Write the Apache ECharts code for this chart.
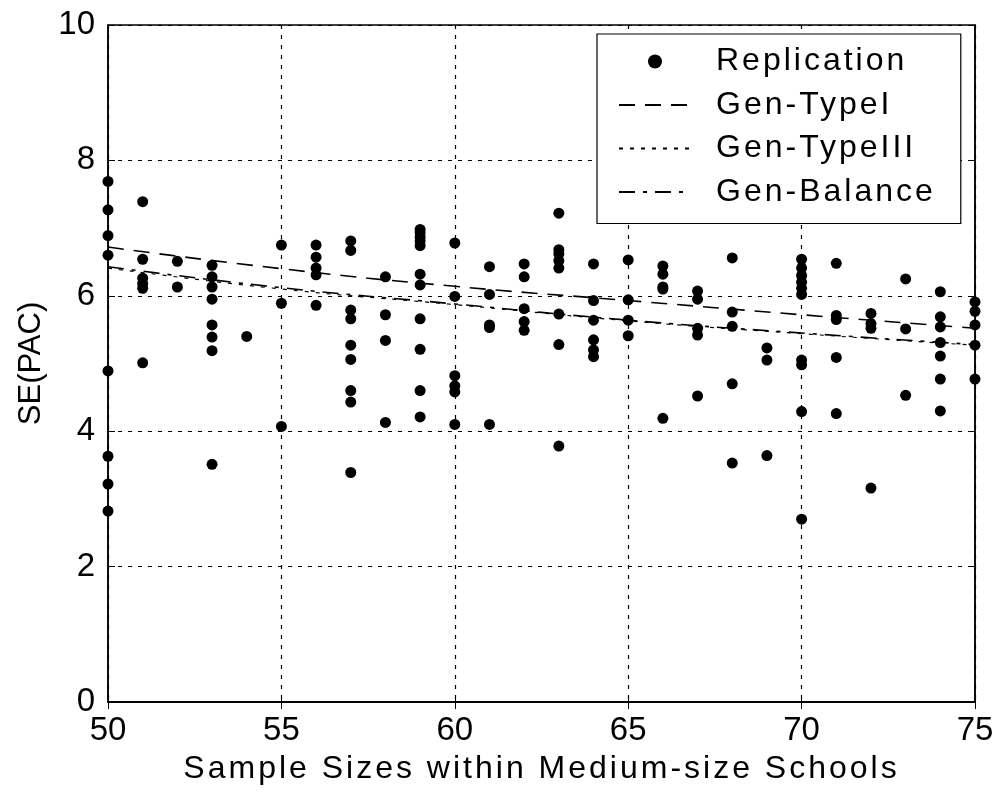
<!DOCTYPE html>
<html>
<head>
<meta charset="utf-8">
<script src="https://cdn.jsdelivr.net/npm/echarts@6/dist/echarts.min.js"></script>
<style>html,body{margin:0;padding:0;background:#fff}#c{width:1000px;height:796px}</style>
</head>
<body>
<div id="c"></div>
<script>
// Replication: sample size -> SE(PAC) values
const repSizes = [50,51,52,53,54,55,56,57,58,59,60,61,62,63,64,65,66,67,68,69,70,71,72,73,74,75];
const repValues = [
  [7.69,7.27,6.89,6.60,4.89,3.63,3.22,2.82],
  [7.39,6.54,6.26,6.18,6.11,5.01],
  [6.51,6.13],
  [6.45,6.28,6.13,5.95,5.57,5.39,5.19,3.51],
  [5.40],
  [6.75,5.89,4.07],
  [6.75,6.57,6.41,6.31,5.86],
  [6.81,6.67,5.79,5.66,5.27,5.06,4.60,4.43,3.39],
  [6.28,5.72,5.34,4.13],
  [6.98,6.93,6.87,6.81,6.74,6.32,6.16,5.66,5.21,4.60,4.21],
  [6.78,5.99,4.82,4.67,4.58,4.10],
  [6.43,6.02,5.57,5.53,4.10],
  [6.47,6.28,5.81,5.62,5.49],
  [7.22,6.68,6.62,6.52,6.41,5.73,5.28,3.78],
  [6.47,5.93,5.64,5.35,5.20,5.10],
  [6.53,5.94,5.64,5.41],
  [6.44,6.32,6.13,6.10,4.19],
  [6.07,5.95,5.52,5.42,4.52],
  [6.56,5.76,5.55,4.70,3.53],
  [5.23,5.05,3.64],
  [6.54,6.41,6.30,6.20,6.11,6.02,5.05,4.98,4.29,2.70],
  [6.48,5.71,5.65,5.09,4.26],
  [5.74,5.59,5.52,3.16],
  [6.25,5.51,4.53],
  [6.06,5.69,5.54,5.31,5.11,4.77,4.30],
  [5.91,5.77,5.57,5.27,4.77]
];
// Generated curves
const genX = [50,55,60,65,70,75];
const genTypeI = [6.72,6.40,6.14,5.93,5.72,5.52];
const genTypeIII = [6.41,6.10,5.87,5.63,5.44,5.27];
const genBalance = [6.43,6.12,5.88,5.64,5.45,5.28];

// Letter-spaced text for the 32px labels (title and legend), as in the original figure
(function(){
  const P = CanvasRenderingContext2D.prototype;
  const d = Object.getOwnPropertyDescriptor(P,'font');
  if (!d || !('letterSpacing' in P)) return;
  Object.defineProperty(P,'font',{
    configurable:true,
    get(){return d.get.call(this);},
    set(v){d.set.call(this,v); this.letterSpacing = /(^|\s)32px/.test(v) ? '3px' : '0px';}
  });
})();

const repData = [];
repSizes.forEach((s,i)=>repValues[i].forEach(v=>repData.push([s,v])));
const pair = ys => genX.map((x,i)=>[x,ys[i]]);

const font = 'Liberation Sans, Arial, sans-serif';
const chart = echarts.init(document.getElementById('c'));
const gridLine = {show:true,lineStyle:{color:'#000',type:[4,6],width:1.2}};
const hiddenSym = {color:'rgba(0,0,0,0)',borderColor:'rgba(0,0,0,0)',borderWidth:0};
chart.setOption({
  animation:false,
  backgroundColor:'#fff',
  grid:{left:108,right:25,top:25,bottom:94,outerBoundsMode:'none',containLabel:false,
        show:true,borderColor:'#000',borderWidth:1.5,backgroundColor:'transparent'},
  legend:{
    left:597, top:34, orient:'vertical',
    padding:[10,25,14,21],
    itemGap:8.5, itemWidth:72, itemHeight:14,
    borderColor:'#000', borderWidth:1.2, backgroundColor:'#fff',
    textStyle:{fontFamily:font,fontSize:32,lineHeight:32,color:'#000',padding:[0,0,0,20]},
    data:[
      {name:'Replication',icon:'circle',itemStyle:{color:'#000'}},
      {name:'Gen-TypeI',itemStyle:hiddenSym},
      {name:'Gen-TypeIII',itemStyle:hiddenSym},
      {name:'Gen-Balance',itemStyle:hiddenSym}
    ]
  },
  xAxis:[{
    type:'value',min:50,max:75,interval:5,
    name:'Sample Sizes within Medium-size Schools',nameLocation:'middle',nameGap:44,
    nameTextStyle:{fontFamily:font,fontSize:32,color:'#000'},
    axisLine:{show:true,lineStyle:{color:'#000',width:1.5}},
    axisTick:{show:true,inside:true,length:7,lineStyle:{color:'#000'}},
    axisLabel:{fontFamily:font,fontSize:33,color:'#000',margin:12,formatter:v=>String(v)},
    splitLine:gridLine
  },{
    type:'value',min:50,max:75,interval:5,position:'top',
    axisLine:{show:true,lineStyle:{color:'#000',width:1.5}},
    axisTick:{show:true,inside:true,length:7,lineStyle:{color:'#000'}},
    axisLabel:{show:false},splitLine:{show:false}
  }],
  yAxis:[{
    type:'value',min:0,max:10,interval:2,
    name:'SE(PAC)',nameLocation:'middle',nameGap:61,nameRotate:90,
    nameTextStyle:{fontFamily:font,fontSize:31,color:'#000'},
    axisLine:{show:true,lineStyle:{color:'#000',width:1.5}},
    axisTick:{show:true,inside:true,length:7,lineStyle:{color:'#000'}},
    axisLabel:{fontFamily:font,fontSize:33,color:'#000',margin:13},
    splitLine:gridLine
  },{
    type:'value',min:0,max:10,interval:2,position:'right',
    axisLine:{show:true,lineStyle:{color:'#000',width:1.5}},
    axisTick:{show:true,inside:true,length:7,lineStyle:{color:'#000'}},
    axisLabel:{show:false},splitLine:{show:false}
  }],
  series:[
    {name:'Replication',type:'scatter',data:repData,symbol:'circle',symbolSize:11,
     itemStyle:{color:'#000',opacity:1},z:5},
    {name:'Gen-TypeI',type:'line',data:pair(genTypeI),smooth:true,symbol:'none',
     itemStyle:{color:'#000'},lineStyle:{color:'#000',width:1.6,type:[16,10]}},
    {name:'Gen-TypeIII',type:'line',data:pair(genTypeIII),smooth:true,symbol:'none',
     itemStyle:{color:'#000'},lineStyle:{color:'#000',width:1.2,type:[4,7]}},
    {name:'Gen-Balance',type:'line',data:pair(genBalance),smooth:true,symbol:'none',
     itemStyle:{color:'#000'},lineStyle:{color:'#000',width:1.6,type:[16,8,4,8]}}
  ]
});
</script>
</body>
</html>
